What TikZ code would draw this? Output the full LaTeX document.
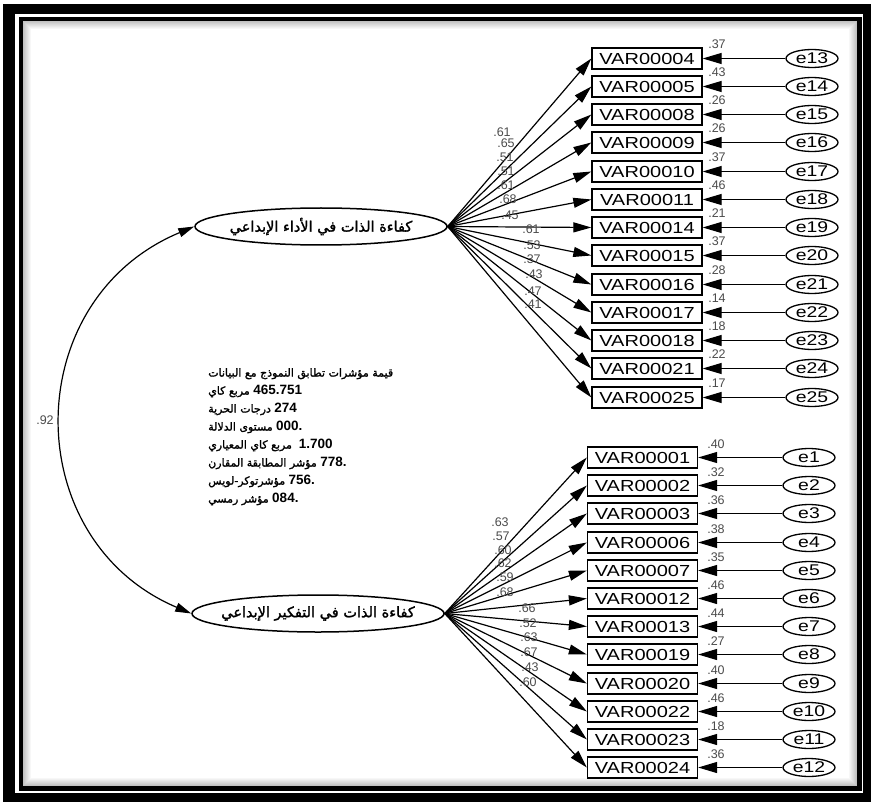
\documentclass[tikz,border=0pt]{standalone}
\usepackage{fontspec}
\usetikzlibrary{shapes.geometric,arrows.meta}
\TeXXeTstate=1
\setmainfont{Liberation Sans}
\newfontfamily\arabicfont[Script=Arabic,FakeBold=1.6]{DejaVu Sans}
\newfontfamily\varfont[FakeStretch=1.25]{Liberation Sans}
\newfontfamily\numfont{Liberation Sans}
\newcommand\fitnum[1]{{\numfont\bfseries\fontsize{13.5}{18}\selectfont #1}}

\tikzset{
  obsbox/.style={draw, rectangle, line width=1.3pt, minimum width=110pt, minimum height=21pt,
    inner sep=0pt, font=\varfont\fontsize{16}{18}\selectfont},
  errnode/.style={draw, ellipse, line width=1.3pt, minimum width=52pt, minimum height=18pt,
    inner sep=0pt, font=\varfont\fontsize{15.5}{18}\selectfont},
  latent/.style={draw, ellipse, line width=1.5pt, minimum width=252pt, minimum height=37pt,
    inner sep=0pt, font=\arabicfont\fontsize{14.5}{16}\selectfont},
  coef/.style={inner sep=0pt, text=black!70, font=\numfont\fontsize{12.5}{14}\selectfont},
  load/.style={line width=1.2pt, -{Triangle[length=18pt,width=10pt]}},
  errarrow/.style={line width=1.2pt, -{Triangle[length=19pt,width=11pt]}},
  covarrow/.style={line width=1.2pt, {Triangle[length=16pt,width=9pt]}-{Triangle[length=16pt,width=9pt]}},
  fitline/.style={inner sep=0pt, align=left, anchor=north west,
    font=\arabicfont\fontsize{11}{18}\selectfont}
}

\begin{document}
\begin{tikzpicture}[x=1pt,y=-1pt]
\useasboundingbox (0,0) rectangle (872,802);

% double frame with a soft inner shadow
\fill[black] (3,4) rectangle (871,802);
\fill[white] (15,14) rectangle (863,793);
\fill[black] (19,17) rectangle (862,791);
\fill[white] (23,21) rectangle (857,786);
\foreach \k in {0,...,7}{
  \pgfmathtruncatemacro\shade{24-3*\k}
  \draw[black!\shade, line width=1pt] (23.5+\k,21.5+\k) rectangle (856.5-\k,785.5-\k);
}

% latent factors
\node[latent] (topLat) at (321,226.5) {\makebox[0pt]{\beginR كفاءة الذات في الأداء الإبداعي\endR}};
\node[latent] (botLat) at (318,613.5) {\makebox[0pt]{\beginR كفاءة الذات في التفكير الإبداعي\endR}};

% covariance between the factors
\draw[covarrow] (topLat.west) .. controls (18,300) and (18,540) .. (botLat.west);
\node[coef] (corr) at (45,420) {.92};

% first factor: indicators, errors, loadings, squared multiple correlations
\foreach \v/\e/\rsq/\ld/\lx/\ly [count=\i from 0] in {
  00004/13/.37/.61/502/132, 00005/14/.43/.65/506/143, 00008/15/.26/.51/505/157,
  00009/16/.26/.51/506/171, 00010/17/.37/.61/506/185, 00011/18/.46/.68/508/199,
  00014/19/.21/.45/510/215, 00015/20/.37/.61/531/229, 00016/21/.28/.53/532/245,
  00017/22/.14/.37/532/259, 00018/23/.18/.43/534/274, 00021/24/.22/.47/533/291,
  00025/25/.17/.41/533/304}{
  \pgfmathsetmacro\yy{floor(58+28.25*\i)+0.5}
  \node[obsbox] (t\i) at (647,\yy) {VAR\v};
  \node[errnode] (te\i) at (812,\yy) {e\e};
  \draw[errarrow] (te\i) -- (t\i);
  \draw[load] (topLat.east) -- (t\i.west);
  \node[coef] (tr\i) at (717,\yy-14) {\rsq};
  \node[coef] (tl\i) at (\lx,\ly) {\ld};
}

% second factor
\foreach \v/\e/\rsq/\ld/\lx/\ly [count=\i from 0] in {
  00001/1/.40/.63/500/522, 00002/2/.32/.57/501/536, 00003/3/.36/.60/503/550,
  00006/4/.38/.62/503/563, 00007/5/.35/.59/505/577, 00012/6/.46/.68/505/592,
  00013/7/.44/.66/527/608, 00019/8/.27/.52/528/623, 00020/9/.40/.63/529/637,
  00022/10/.46/.67/529/652, 00023/11/.18/.43/530/667, 00024/12/.36/.60/528/682}{
  \pgfmathsetmacro\yy{floor(457.5+28.2*\i)+0.5}
  \node[obsbox] (b\i) at (642.5,\yy) {VAR\v};
  \node[errnode] (be\i) at (809,\yy) {e\e};
  \draw[errarrow] (be\i) -- (b\i);
  \draw[load] (botLat.east) -- (b\i.west);
  \node[coef] (br\i) at (716,\yy-13) {\rsq};
  \node[coef] (bl\i) at (\lx,\ly) {\ld};
}

% model fit indices
\node[fitline] (fit) at (208,368) {%
  \beginR قيمة مؤشرات تطابق النموذج مع البيانات\endR\\%
  \beginR مربع كاي\endR\ \fitnum{465.751}\\%
  \beginR درجات الحرية\endR\ \fitnum{274}\\%
  \beginR مستوى الدلالة\endR\ \fitnum{000.}\\%
  \beginR مربع كاي المعياري\endR\ \ \fitnum{1.700}\\%
  \beginR مؤشر المطابقة المقارن\endR\ \fitnum{778.}\\%
  \beginR مؤشرتوكر-لويس\endR\ \fitnum{756.}\\%
  \beginR مؤشر رمسي\endR\ \fitnum{084.}};
\end{tikzpicture}
\end{document}
